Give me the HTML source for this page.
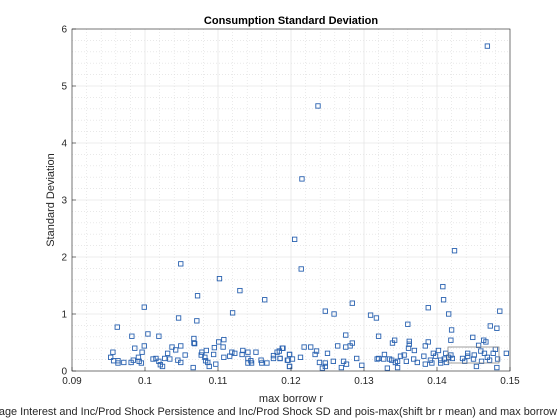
<!DOCTYPE html>
<html><head><meta charset="utf-8"><style>
html,body{margin:0;padding:0;background:#fff;}
svg{display:block;font-family:"Liberation Sans",Arial,sans-serif;}
</style></head><body>
<svg id="chart" width="560" height="420" viewBox="0 0 560 420" xmlns="http://www.w3.org/2000/svg">
<rect x="0" y="0" width="560" height="420" fill="#fff"/>
<g id="grid"></g>
<g id="points"></g>
<rect x="448" y="347" width="51" height="16" fill="none" stroke="#888" stroke-width="0.8"/>
<rect x="72" y="29" width="438" height="342" fill="none" stroke="#262626" stroke-width="0.6"/>
<g id="ticks"></g>
<text x="291" y="24" text-anchor="middle" font-size="11" font-weight="bold" fill="#000">Consumption Standard Deviation</text>
<text transform="translate(54,200) rotate(-90)" text-anchor="middle" font-size="11" fill="#262626">Standard Deviation</text>
<text x="291" y="402" text-anchor="middle" font-size="11" fill="#262626">max borrow r</text>
<text x="557" y="415" text-anchor="end" font-size="10.9" fill="#262626">Average Interest and Inc/Prod Shock Persistence and Inc/Prod Shock SD and pois-max(shift br r mean) and max borrow</text>
</svg>
<script>
const xTicks = [0.09,0.1,0.11,0.12,0.13,0.14,0.15];
const xTickLabels = ["0.09","0.1","0.11","0.12","0.13","0.14","0.15"];
const yTicks = [0,1,2,3,4,5,6];
const yTickLabels = ["0","1","2","3","4","5","6"];
const xVals = [0.0953,0.0956,0.0957,0.0963,0.0963,0.0962,0.0971,0.0981,0.0984,0.0982,0.0986,0.0991,0.0992,0.0996,0.0995,0.0999,0.0999,0.1004,0.1011,0.1015,0.1019,0.1019,0.1021,0.1024,0.1027,0.1031,0.1034,0.1037,0.1042,0.1045,0.1046,0.1049,0.1049,0.1049,0.1055,0.1066,0.1067,0.1067,0.1068,0.1071,0.1072,0.1077,0.1078,0.1082,0.1083,0.1084,0.1086,0.1088,0.1095,0.1094,0.1097,0.1101,0.1102,0.1107,0.1108,0.1108,0.1116,0.1119,0.1120,0.1123,0.1130,0.1133,0.1134,0.1141,0.1141,0.1145,0.1141,0.1146,0.1152,0.1159,0.1160,0.1164,0.1167,0.1176,0.1176,0.1181,0.1184,0.1185,0.1189,0.1196,0.1198,0.1198,
0.1185,0.1188,0.1198,0.1195,0.1202,0.1198,0.1205,0.1214,0.1213,0.1218,0.1227,0.1235,0.1233,0.1239,0.1243,0.1247,0.1247,0.1250,0.1247,0.1259,0.1258,0.1264,0.1269,0.1272,0.1276,0.1275,0.1275,0.1281,0.1284,0.1284,0.1290,0.1297,0.1309,0.1317,0.1320,0.1318,0.1320,0.1327,0.1328,0.1332,0.1335,0.1338,0.1339,0.1342,0.1343,0.1346,0.1346,0.1350,0.1355,0.1358,0.1360,0.1361,0.1362,0.1362,0.1368,0.1369,0.1373,0.1382,0.1384,0.1384,0.1388,0.1388,0.1391,0.1393,0.1395,0.1398,0.1402,0.1405,0.1405,0.1408,0.1409,0.1410,0.1412,0.1413,0.1416,0.1419,0.1420,0.1416,0.1419,0.1421,0.1424,0.1435,0.1438,0.1442,0.1442,0.1449,0.1450,0.1451,0.1454,0.1457,0.1460,0.1461,0.1464,0.1467,0.1465,0.1469,0.1472,0.1473,0.1477,0.1480,0.1482,0.1483,0.1482,0.1486,0.1495,
0.1215,0.1237,0.1469];
const yVals = [0.24,0.33,0.18,0.18,0.14,0.77,0.15,0.15,0.19,0.61,0.40,0.24,0.17,0.33,0.14,0.44,1.12,0.65,0.21,0.22,0.61,0.17,0.11,0.08,0.22,0.31,0.21,0.42,0.37,0.19,0.93,1.88,0.44,0.15,0.28,0.06,0.57,0.49,0.48,0.88,1.32,0.28,0.33,0.24,0.18,0.36,0.15,0.08,0.41,0.29,0.12,0.51,1.62,0.42,0.55,0.24,0.26,0.33,1.02,0.31,1.41,0.29,0.36,0.22,0.33,0.18,0.14,0.14,0.33,0.19,0.14,1.25,0.14,0.27,0.22,0.33,0.35,0.22,0.40,0.19,0.29,0.08,
0.22,0.40,0.29,0.19,0.21,0.08,2.31,1.79,0.24,0.42,0.42,0.35,0.29,0.15,0.05,0.14,0.08,0.31,1.05,1.00,0.17,0.44,0.06,0.17,0.12,0.63,0.42,0.44,0.49,1.19,0.22,0.10,0.98,0.93,0.61,0.21,0.22,0.21,0.29,0.05,0.21,0.19,0.49,0.54,0.15,0.17,0.06,0.26,0.28,0.17,0.82,0.40,0.47,0.52,0.21,0.36,0.15,0.26,0.44,0.12,0.51,1.11,0.19,0.14,0.31,0.26,0.36,0.19,0.14,1.48,1.25,0.21,0.31,0.15,1.00,0.54,0.72,0.24,0.28,0.22,2.11,0.22,0.17,0.31,0.26,0.59,0.21,0.28,0.08,0.45,0.35,0.17,0.54,0.51,0.31,0.24,0.19,0.79,0.31,0.38,0.75,0.21,0.06,1.05,0.31,
3.37,4.65,5.70];

const NS = "http://www.w3.org/2000/svg";
const L=72,R=510,T=29,B=371;
const xMin=0.09,xMax=0.15,yMin=0,yMax=6;
function sx(v){return L+(v-xMin)/(xMax-xMin)*(R-L);}
function sy(v){return B-(v-yMin)/(yMax-yMin)*(B-T);}
function mk(tag,attrs,parent){const e=document.createElementNS(NS,tag);for(const k in attrs)e.setAttribute(k,attrs[k]);parent.appendChild(e);return e;}
const grid=document.getElementById('grid'),ticks=document.getElementById('ticks'),pts=document.getElementById('points');
for(let i=0;i<=30;i++){const v=xMin+i*0.002;if(i%5===0)continue;
 const l=mk('line',{x1:sx(v),x2:sx(v),y1:T,y2:B,stroke:'#dcdcdc','stroke-width':0.6,'stroke-dasharray':'1,2'},grid);
 
 }
for(let i=0;i<=30;i++){const v=i*0.2;if(i%5===0)continue;
 const l=mk('line',{x1:L,x2:R,y1:sy(v),y2:sy(v),stroke:'#dcdcdc','stroke-width':0.6,'stroke-dasharray':'1,2'},grid);
 
 }
xTicks.forEach((v,i)=>{
 const g=mk('line',{x1:sx(v),x2:sx(v),y1:T,y2:B,stroke:'#e6e6e6','stroke-width':0.8},grid);
 
 
 const t=mk('line',{x1:sx(v),x2:sx(v),y1:B,y2:B-4,stroke:'#262626','stroke-width':0.6},ticks);
 
 
 const tx=mk('text',{x:sx(v),y:B+13,'text-anchor':'middle','font-size':10,fill:'#262626'},ticks);
 tx.textContent=xTickLabels[i];
 
 
});
yTicks.forEach((v,i)=>{
 const g=mk('line',{x1:L,x2:R,y1:sy(v),y2:sy(v),stroke:'#e6e6e6','stroke-width':0.8},grid);
 
 
 const t=mk('line',{x1:L,x2:L+4,y1:sy(v),y2:sy(v),stroke:'#262626','stroke-width':0.6},ticks);
 
 
 const tx=mk('text',{x:L-5,y:sy(v)+3.5,'text-anchor':'end','font-size':10,fill:'#262626'},ticks);
 tx.textContent=yTickLabels[i];
 
 
});
xVals.forEach((xv,i)=>{
 const r=mk('rect',{x:sx(xv)-2.2,y:sy(yVals[i])-2.2,width:4.4,height:4.4,fill:'none',stroke:'#2a62b0','stroke-width':0.9},pts);
 
 
});
</script>
</body></html>
